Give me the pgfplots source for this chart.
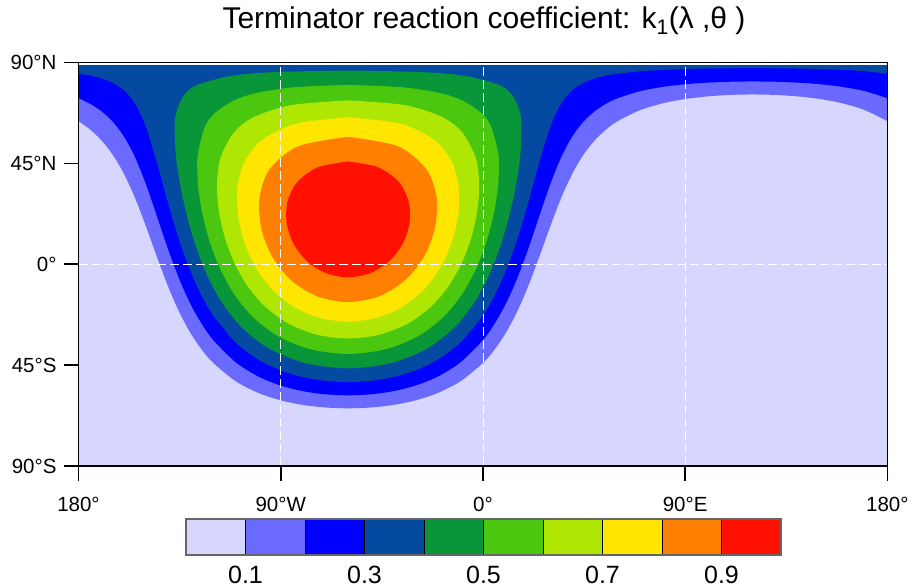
\documentclass[border=0pt]{standalone}
\usepackage{fontspec}
\setmainfont{Liberation Sans}
\usepackage{pgfplots}
\pgfplotsset{compat=1.18}
\definecolor{k0}{RGB}{214,214,255}
\definecolor{k1}{RGB}{106,106,255}
\definecolor{k2}{RGB}{0,0,255}
\definecolor{k3}{RGB}{4,74,160}
\definecolor{k4}{RGB}{8,150,56}
\definecolor{k5}{RGB}{74,199,14}
\definecolor{k6}{RGB}{176,230,4}
\definecolor{k7}{RGB}{255,230,0}
\definecolor{k8}{RGB}{255,128,0}
\definecolor{k9}{RGB}{255,16,0}
\begin{document}
\begin{tikzpicture}[x=1pt,y=1pt]
\path[use as bounding box] (0,0) rectangle (912,-587);
\node[anchor=base, font=\fontsize{30}{35}\selectfont] at (484,-28.3) {Terminator reaction coefficient: k\textsubscript{1}(λ ,θ )};
\begin{axis}[
  at={(78.5pt,-466pt)}, anchor=south west, scale only axis,
  width=808.8pt, height=403.5pt,
  xmin=-180, xmax=180, ymin=-90, ymax=90,
  xtick={-180,-90,0,90,180}, xticklabels={180°,90°W,0°,90°E,180°},
  ytick={-90,-45,0,45,90}, yticklabels={90°S,45°S,0°,45°N,90°N},
  tick pos=left, tick align=outside, major tick length=14.5pt,
  tick style={black, line width=1.6pt},
  axis line style={line width=1.6pt},
  ticklabel style={font=\fontsize{20.5}{24}\selectfont},
  xticklabel style={yshift=-13pt},
  yticklabel style={xshift=-4pt},
  axis on top,
  xmajorgrids,
  grid style={white, line width=0.8pt, dash pattern=on 9pt off 4pt},
  extra y ticks={0}, extra y tick labels={},
  extra y tick style={grid=major},
]
\addplot[fill=k0, draw=none] coordinates {(-180,-90) (180,-90) (180,88.8) (-180,88.8)} -- cycle;
\addplot[fill=k1, draw=none, smooth] coordinates {(-180,63.86) (-175,60.27) (-170,55.52) (-165,49.21) (-160,40.81) (-155,29.99) (-150,17.00) (-145,3.05) (-140,-10.21) (-135,-21.63) (-130,-30.92) (-125,-38.27) (-120,-44.04) (-110,-52.20) (-100,-57.38) (-90,-60.71) (-80,-62.77) (-70,-63.90) (-60,-64.26) (-50,-63.90) (-40,-62.77) (-30,-60.71) (-20,-57.38) (-10,-52.20) (0,-44.04) (5,-38.27) (10,-30.92) (15,-21.63) (20,-10.21) (25,3.05) (30,17.00) (35,29.99) (40,40.81) (45,49.21) (50,55.52) (55,60.27) (60,63.86) (70,68.76) (80,71.80) (90,73.71) (100,74.89) (110,75.54) (120,75.74) (130,75.54) (140,74.89) (150,73.71) (160,71.80) (170,68.76) (180,63.86)} -- (180,88.8) -- (-180,88.8) -- cycle;
\addplot[fill=k2, draw=none, smooth] coordinates {(-180,74.08) (-175,71.70) (-170,68.44) (-165,63.88) (-160,57.36) (-155,48.13) (-150,35.79) (-145,21.19) (-140,6.34) (-135,-6.96) (-130,-18.00) (-125,-26.84) (-120,-33.82) (-110,-43.73) (-100,-50.06) (-90,-54.11) (-80,-56.64) (-70,-58.02) (-60,-58.46) (-50,-58.02) (-40,-56.64) (-30,-54.11) (-20,-50.06) (-10,-43.73) (0,-33.82) (5,-26.84) (10,-18.00) (15,-6.96) (20,6.34) (25,21.19) (30,35.79) (35,48.13) (40,57.36) (45,63.88) (50,68.44) (55,71.70) (60,74.08) (70,77.23) (80,79.12) (90,80.31) (100,81.02) (110,81.42) (120,81.54) (130,81.42) (140,81.02) (150,80.31) (160,79.12) (170,77.23) (180,74.08)} -- (180,88.8) -- (-180,88.8) -- cycle;
\addplot[fill=k3, draw=none, smooth] coordinates {(-180,85.03) (-175,84.19) (-170,82.95) (-165,81.05) (-160,77.85) (-155,72.01) (-150,61.30) (-145,45.07) (-140,26.83) (-135,10.21) (-130,-3.49) (-125,-14.35) (-120,-22.87) (-110,-34.87) (-100,-42.48) (-90,-47.34) (-80,-50.36) (-70,-52.02) (-60,-52.54) (-50,-52.02) (-40,-50.36) (-30,-47.34) (-20,-42.48) (-10,-34.87) (0,-22.87) (5,-14.35) (10,-3.49) (15,10.21) (20,26.83) (25,45.07) (30,61.30) (35,72.01) (40,77.85) (45,81.05) (50,82.95) (55,84.19) (60,85.03) (70,86.09) (80,86.70) (90,87.08) (100,87.30) (110,87.42) (120,87.46) (130,87.42) (140,87.30) (150,87.08) (160,86.70) (170,86.09) (180,85.03)} -- (180,88.8) -- (-180,88.8) -- cycle;
\addplot[fill=k4, draw=none, smooth] coordinates {(-60,86.42) (-27.48,85.74) (-8.53,84.14) (7.12,80.05) (12.88,75.63) (16.18,68.83) (17.17,61.97) (16.62,48.23) (14.57,34.57) (11.59,21.08) (7.70,7.86) (2.70,-4.94) (-3.86,-17.09) (-12.67,-28.18) (-24.70,-37.52) (-40.73,-44.03) (-60,-46.42) (-79.27,-44.03) (-95.30,-37.52) (-107.33,-28.18) (-116.14,-17.09) (-122.70,-4.94) (-127.70,7.86) (-131.59,21.08) (-134.57,34.57) (-136.62,48.23) (-137.17,61.97) (-136.18,68.83) (-132.88,75.63) (-127.12,80.05) (-111.47,84.14) (-92.52,85.74) (-60,86.42)} -- cycle;
\addplot[fill=k5, draw=none, smooth] coordinates {(-60,80) (-36.64,79.03) (-19.83,76.52) (-9.34,73.15) (-0.62,67.35) (3.77,61.14) (6.96,48.28) (6.78,35.31) (4.83,22.44) (1.52,9.85) (-3.16,-2.27) (-9.49,-13.64) (-17.97,-23.86) (-29.20,-32.26) (-43.48,-37.96) (-60,-40) (-76.52,-37.96) (-90.80,-32.26) (-102.03,-23.86) (-110.51,-13.64) (-116.84,-2.27) (-121.52,9.85) (-124.83,22.44) (-126.78,35.31) (-126.96,48.28) (-123.77,61.14) (-119.38,67.35) (-110.66,73.15) (-100.17,76.52) (-83.36,79.03) (-60,80)} -- cycle;
\addplot[fill=k6, draw=none, smooth] coordinates {(-60,73.13) (-34.74,71.00) (-18.27,65.73) (-9.25,58.90) (-3.21,47.46) (-1.65,35.53) (-2.54,23.56) (-5.17,11.84) (-9.40,0.61) (-15.32,-9.83) (-23.24,-19.05) (-33.46,-26.48) (-45.96,-31.39) (-60,-33.13) (-74.04,-31.39) (-86.54,-26.48) (-96.76,-19.05) (-104.68,-9.83) (-110.60,0.61) (-114.83,11.84) (-117.46,23.56) (-118.35,35.53) (-116.79,47.46) (-110.75,58.90) (-101.73,65.73) (-85.26,71.00) (-60,73.13)} -- cycle;
\addplot[fill=k7, draw=none, smooth] coordinates {(-60,65.57) (-36.34,62.58) (-21.33,55.14) (-13.85,45.56) (-10.90,35.10) (-10.76,24.40) (-12.65,13.85) (-16.27,3.77) (-21.58,-5.52) (-28.70,-13.60) (-37.67,-19.98) (-48.31,-24.13) (-60,-25.57) (-71.69,-24.13) (-82.33,-19.98) (-91.30,-13.60) (-98.42,-5.52) (-103.73,3.77) (-107.35,13.85) (-109.24,24.40) (-109.10,35.10) (-106.15,45.56) (-98.67,55.14) (-83.66,62.58) (-60,65.57)} -- cycle;
\addplot[fill=k8, draw=none, smooth] coordinates {(-60,56.87) (-37.78,52.61) (-25.03,42.25) (-20.53,29.30) (-21.41,15.88) (-26.27,3.32) (-34.68,-7.18) (-46.29,-14.32) (-60,-16.87) (-73.71,-14.32) (-85.32,-7.18) (-93.73,3.32) (-98.59,15.88) (-99.47,29.30) (-95.03,42.25) (-82.22,52.61) (-60,56.87)} -- cycle;
\addplot[fill=k9, draw=none, smooth] coordinates {(-60,45.84) (-46.74,43.33) (-37.40,36.69) (-32.95,27.68) (-32.74,17.93) (-35.96,8.69) (-42.05,1.04) (-50.37,-4.05) (-60,-5.84) (-69.63,-4.05) (-77.95,1.04) (-84.04,8.69) (-87.26,17.93) (-87.05,27.68) (-82.60,36.69) (-73.26,43.33) (-60,45.84)} -- cycle;
\end{axis}
\begin{axis}[
  at={(186pt,-555pt)}, anchor=south west, scale only axis,
  width=595pt, height=36pt,
  xmin=0, xmax=1, ymin=0, ymax=1,
  xtick={0.1,0.3,0.5,0.7,0.9}, xticklabels={0.1,0.3,0.5,0.7,0.9},
  ytick=\empty, major tick length=0pt,
  axis line style={line width=1.2pt, black!60},
  xticklabel style={font=\fontsize{25}{29}\selectfont, yshift=-7pt},
  axis on top,
]
\addplot[fill=k0, draw=black, line width=0.6pt] coordinates {(0,0) (0.1,0) (0.1,1) (0,1)} -- cycle;
\addplot[fill=k1, draw=black, line width=0.6pt] coordinates {(0.1,0) (0.2,0) (0.2,1) (0.1,1)} -- cycle;
\addplot[fill=k2, draw=black, line width=0.6pt] coordinates {(0.2,0) (0.3,0) (0.3,1) (0.2,1)} -- cycle;
\addplot[fill=k3, draw=black, line width=0.6pt] coordinates {(0.3,0) (0.4,0) (0.4,1) (0.3,1)} -- cycle;
\addplot[fill=k4, draw=black, line width=0.6pt] coordinates {(0.4,0) (0.5,0) (0.5,1) (0.4,1)} -- cycle;
\addplot[fill=k5, draw=black, line width=0.6pt] coordinates {(0.5,0) (0.6,0) (0.6,1) (0.5,1)} -- cycle;
\addplot[fill=k6, draw=black, line width=0.6pt] coordinates {(0.6,0) (0.7,0) (0.7,1) (0.6,1)} -- cycle;
\addplot[fill=k7, draw=black, line width=0.6pt] coordinates {(0.7,0) (0.8,0) (0.8,1) (0.7,1)} -- cycle;
\addplot[fill=k8, draw=black, line width=0.6pt] coordinates {(0.8,0) (0.9,0) (0.9,1) (0.8,1)} -- cycle;
\addplot[fill=k9, draw=black, line width=0.6pt] coordinates {(0.9,0) (1,0) (1,1) (0.9,1)} -- cycle;
\end{axis}
\end{tikzpicture}
\end{document}
